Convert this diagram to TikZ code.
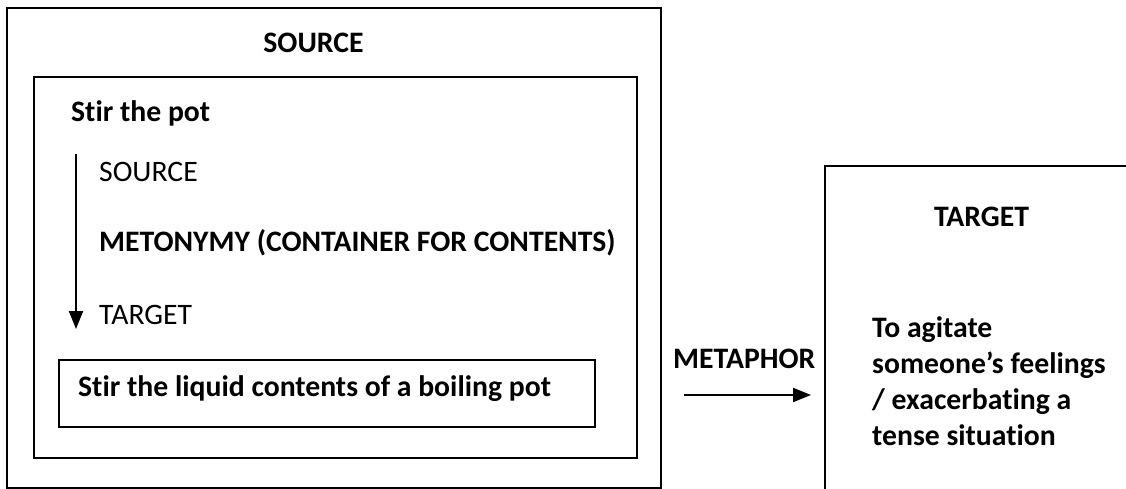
\documentclass[tikz,border=0pt]{standalone}
\usepackage{fontspec}
\setmainfont{Carlito}[Ligatures=NoCommon,RawFeature=-liga]
\usetikzlibrary{arrows.meta}
\begin{document}
\begin{tikzpicture}[x=1pt,y=-1pt,
  box/.style={draw=black,line width=2.3pt},
  txt/.style={inner sep=0pt,anchor=base west,font=\fontsize{29.7}{36}\selectfont},
  btxt/.style={txt,font=\fontsize{29.7}{36}\selectfont\bfseries},
  arr/.style={line width=2pt,-{Triangle[width=14pt,length=18pt]}}]
\clip (0,0) rectangle (1126,489);
\fill[white] (0,0) rectangle (1126,489);
% boxes
\draw[box] (7,8) rectangle (661,488);
\draw[box] (34,77) rectangle (637,458);
\node[box,inner sep=0pt,anchor=north west,minimum width=536pt,minimum height=67pt] (inner) at (58,359) {};
\node[box,inner sep=0pt,anchor=north west,minimum width=340pt,minimum height=360pt] (target) at (824,165) {};
% texts
\node[btxt,anchor=base] (srctitle) at (313.5,53) {SOURCE};
\node[btxt] (stir) at (71,121.5) {Stir the pot};
\node[txt] (src) at (99,181.5) {SOURCE};
\node[btxt] (meto) at (99,251.5) {METONYMY (CONTAINER FOR CONTENTS)};
\node[txt] (tgt) at (99,324) {TARGET};
\node[btxt] (liquid) at (78,396.5) {Stir the liquid contents of a boiling pot};
\node[btxt] (metaphor) at (673,368) {METAPHOR};
\node[btxt,anchor=base] (tgttitle) at (981.5,226) {TARGET};
\node[btxt,anchor=north west,align=left] (tgtbody) at (872,316.5) {To agitate\\someone’s feelings\\/ exacerbating a\\tense situation};
% arrows
\coordinate (a1) at (76,154);
\coordinate (a2) at (76,329);
\draw[arr] (a1) -- (a2);
\coordinate (m1) at (684,395);
\coordinate (m2) at (811,395);
\draw[arr] (m1) -- (m2);
\end{tikzpicture}
\end{document}
